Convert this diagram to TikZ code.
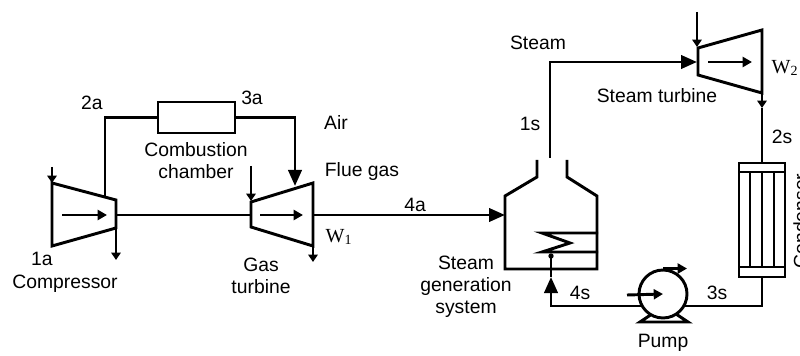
\documentclass[tikz,border=0pt]{standalone}
\usepackage{fontspec}
\setmainfont{Liberation Serif}
\setsansfont{Liberation Sans}
\usetikzlibrary{arrows.meta,positioning,calc}
\tikzset{
  bigtip/.style={-{Triangle[length=12pt,width=10pt]}},
  midtip/.style={-{Triangle[length=7pt,width=7.5pt]}},
  smalltip/.style={-{Triangle[length=5.5pt,width=7pt]}},
  lbl/.style={font=\sffamily\fontsize{14.5}{16.5}\selectfont, inner sep=0pt, align=center},
  wlbl/.style={font=\rmfamily\fontsize{15}{16}\selectfont, inner sep=0pt},
  unit/.style={draw, inner sep=0pt},
}
\begin{document}
\begin{tikzpicture}[x=0.75pt, y=-0.75pt, line width=2.2pt]
  \useasboundingbox (0,0) rectangle (800,356);
  % Ports
  \coordinate (cmpIn)   at (52,167);
  \coordinate (cmpTop)  at (52,183);
  \coordinate (cmpA)    at (105,197);
  \coordinate (cmpShft) at (116,215);
  \coordinate (cmpOut)  at (116,228);
  \coordinate (cmpEnd)  at (116,260);
  \coordinate (gtIn)    at (295,186);
  \coordinate (gtTopIn) at (251,166);
  \coordinate (gtTop)   at (251,201);
  \coordinate (gtShft)  at (251,215);
  \coordinate (gtOut)   at (313,215);
  \coordinate (gtBot)   at (313,246);
  \coordinate (gtEnd)   at (313,262);
  \coordinate (sgIn)    at (505,215);
  \coordinate (sgOut)   at (550,158);
  \coordinate (sgBot)   at (551,277);
  \coordinate (coilIn)  at (551,256);
  \coordinate (stIn)    at (697,62);
  \coordinate (stTopIn) at (697,12);
  \coordinate (stTop)   at (697,47);
  \coordinate (stOut)   at (762,93);
  \coordinate (stMid)   at (762,108);
  \coordinate (pmpL)    at (642,306);
  \coordinate (pmpR)    at (684,306);
  % Compressor
  \draw (52,183) -- (116,200) -- (116,228) -- (52,246) -- cycle;
  \draw[midtip] (62,215) -- (107,215);
  \draw[smalltip] (cmpIn) -- (cmpTop);
  \draw[smalltip] (cmpOut) -- (cmpEnd);
  % Gas turbine
  \draw (251,202) -- (313,183) -- (313,246) -- (251,227) -- cycle;
  \draw[midtip] (260,215) -- (303,215);
  \draw[smalltip] (gtTopIn) -- (gtTop);
  \draw[smalltip] (gtBot) -- (gtEnd);
  \draw (cmpShft) -- (gtShft);
  % Combustion chamber
  \node (cc) [unit, minimum width=57.75pt, minimum height=23.25pt] at (196.5,117.5) {};
  \draw (cmpA) |- (cc.west);
  \draw[bigtip] (cc.east) -| (gtIn);
  \draw[bigtip] (gtOut) -- (sgIn);
  % Steam generation system
  \draw (537,160) -- (537,177) -- (505,196) -- (505,269) -- (597,269)
        -- (597,196) -- (567,177) -- (567,160);
  \draw (598,233) -- (542,233) -- (570,243) -- (542,252) -- (598,252);
  \fill (coilIn) circle[radius=2pt];
  \draw (sgBot) -- (coilIn);
  \draw[bigtip] (sgOut) |- (stIn);
  % Steam turbine
  \draw (698,48) -- (762,30) -- (762,93) -- (698,75) -- cycle;
  \draw[midtip] (708,62) -- (752,62);
  \draw[smalltip] (stTopIn) -- (stTop);
  \draw[smalltip] (stOut) -- (stMid);
  % Condenser
  \node (cnd) [unit, minimum width=34.5pt, minimum height=85.5pt] at (762,220) {};
  \draw (739,172) -- (785,172);
  \draw (739,267) -- (785,267);
  \foreach \t in {750,762,774} {
    \draw (\t,172) -- (\t,267);
  }
  \draw (stMid) -- (cnd.north);
  % Pump
  \draw[fill=white] (652,314) -- (640,322) -- (688,322) -- (676,314) -- cycle;
  \node (pmp) [unit, circle, fill=white, minimum size=36pt] at (663,294) {};
  \draw[midtip] (627,295) -- (pmp.center);
  \draw[midtip] (pmp.north) -- ++(24,0);
  \draw (cnd.south) |- (pmpR);
  \draw[bigtip] (pmpL) -| (sgBot);
  % Labels
  \node[lbl] (l2a)   at (92,103)  {2a};
  \node[lbl] (l3a)   at (252,98)  {3a};
  \node[lbl] (l1a)   at (42,259)  {1a};
  \node[lbl] (lcmp)  at (65,284)  {Compressor};
  \node[lbl] (lcc)   at (196,161) {Combustion\\chamber};
  \node[lbl] (lgt)   at (261,276) {Gas\\turbine};
  \node[lbl] (lair)  at (336,122) {Air};
  \node[lbl] (lflue) at (362,172) {Flue gas};
  \node[wlbl] (lw1)  at (339,237) {W\textsubscript{1}};
  \node[lbl] (l4a)   at (415,205) {4a};
  \node[lbl] (lsg)   at (466,287) {Steam\\generation\\system};
  \node[lbl] (lstm)  at (538,43)  {Steam};
  \node[lbl] (l1s)   at (530,124) {1s};
  \node[lbl] (lst)   at (657,96)  {Steam turbine};
  \node[wlbl] (lw2)  at (785,68)  {W\textsubscript{2}};
  \node[lbl] (l2s)   at (782,137) {2s};
  \node[lbl] (l3s)   at (717,293) {3s};
  \node[lbl] (l4s)   at (580,293) {4s};
  \node[lbl] (lpmp)  at (663,343) {Pump};
  \node[lbl, rotate=90, anchor=north] (lcnd) at (792,221) {Condenser};
\end{tikzpicture}
\end{document}
